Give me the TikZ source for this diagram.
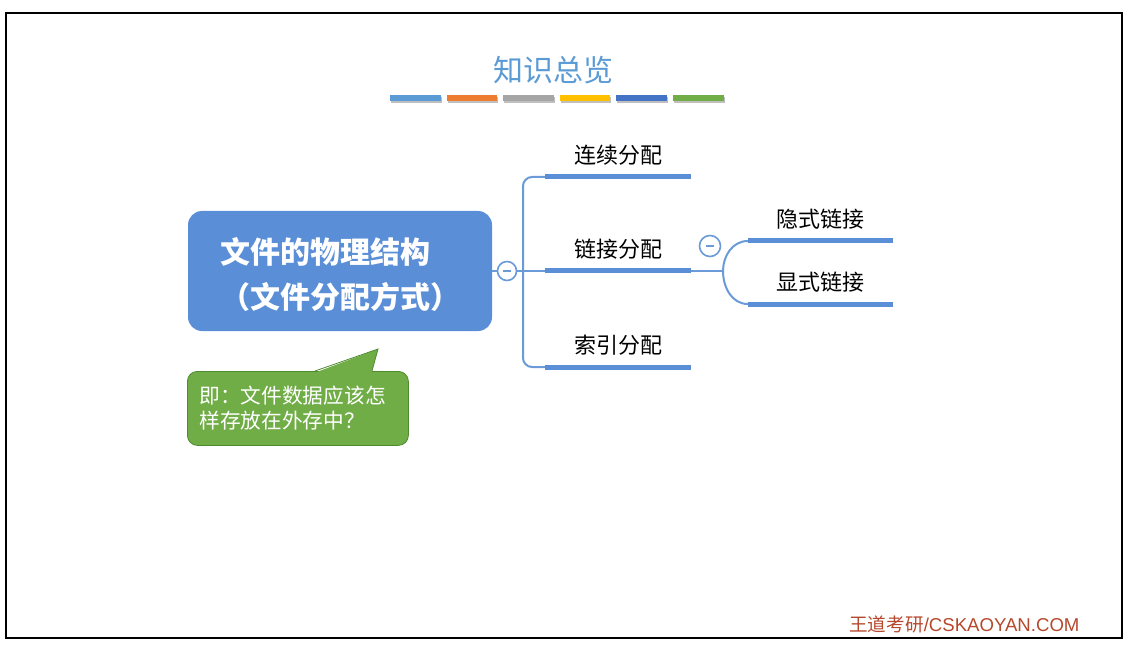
\documentclass[tikz,border=0pt]{standalone}
\usepackage{fontspec}
\setmainfont{Noto Sans CJK SC}
\newfontfamily\arialfont{Liberation Sans}
\usetikzlibrary{positioning}

\begin{document}
\begin{tikzpicture}[x=1pt, y=-1pt]
    % --- Colores ---
    \definecolor{titleblue}{HTML}{5B9BD5}
    \definecolor{mainblue}{HTML}{5A8ED6}
    \definecolor{lineblue}{HTML}{6A9AD8}
    \definecolor{notegreen}{HTML}{70AD47}
    \definecolor{notedark}{HTML}{4E8A2E}
    \definecolor{footred}{HTML}{B5482C}
    \definecolor{barorange}{HTML}{ED7D31}
    \definecolor{bargray}{HTML}{A5A5A5}
    \definecolor{baryellow}{HTML}{FFC000}
    \definecolor{bardarkblue}{HTML}{4472C4}

    % --- Estilos ---
    \tikzset{
        mainbox/.style={rectangle, rounded corners=14pt, fill=mainblue, text=white,
            minimum width=304pt, minimum height=120pt, align=left,
            font=\fontsize{30pt}{45pt}\selectfont\bfseries},
        topic/.style={minimum width=146pt, inner xsep=0pt, inner ysep=11pt,
            text height=19.4pt, text depth=2.6pt, anchor=south,
            font=\fontsize{22pt}{26pt}\selectfont},
        bar/.style={draw=mainblue, line width=5pt},
        link/.style={draw=lineblue, line width=2pt},
        fold/.style={circle, draw=lineblue, fill=white, line width=1.6pt,
            minimum size=19pt, inner sep=0pt,
            path picture={\draw[lineblue, line width=1.4pt]
                ([xshift=-4pt]path picture bounding box.center) --
                ([xshift=4pt]path picture bounding box.center);}},
        notebox/.style={rectangle, rounded corners=10pt, fill=notegreen, draw=notedark,
            line width=0.8pt, text=white, anchor=north west, minimum width=221pt,
            minimum height=74pt, text width=197pt, align=left,
            font=\fontsize{20.7pt}{25pt}\selectfont}
    }

    \useasboundingbox (0,0) rectangle (1133,647);
    \draw[line width=2pt] (6,13) rectangle (1122,638);

    % --- Titulo y barras de colores ---
    \node[text=titleblue, font=\fontsize{30pt}{34pt}\selectfont] (titulo) at (553,70) {知识总览};
    \foreach \c [count=\i from 0] in {titleblue, barorange, bargray, baryellow, bardarkblue, notegreen} {
        \fill[black!25] (391+\i*56.6,97) rectangle ++(50.5,6);
        \fill[\c] (390+\i*56.6,95) rectangle ++(50.5,6);
    }

    % --- Nodo central ---
    \node[mainbox] (wenjian) at (340,271) {\rule{0pt}{34pt}文件的物理结构\\（文件分配方式）};
    \node[fold] (c1) at (507,271) {};

    % --- Ramas de primer nivel ---
    \node[topic] (lianxu)  at (618,177) {连续分配};
    \node[topic] (lianjie) at (618,271) {链接分配};
    \node[topic] (suoyin)  at (618,367) {索引分配};

    % --- Ramas de segundo nivel ---
    \node[topic, minimum width=145pt] (yinshi)  at (820.5,241) {隐式链接};
    \node[topic, minimum width=145pt] (xianshi) at (820.5,304) {显式链接};
    \node[fold, minimum size=21pt] (c2) at (710,246) {};

    \foreach \n in {lianxu, lianjie, suoyin, yinshi, xianshi} {
        \draw[bar] (\n.south west) -- (\n.south east);
    }

    % --- Conectores ---
    \coordinate (tronco) at (523,271);
    \coordinate (bifur) at (723,271);
    \draw[link] (wenjian.east) -- (c1.west);
    \draw[link] (c1.east) -- (lianjie.south west);
    \draw[link, rounded corners=9pt] (lianxu.south west) -| (tronco) |- (suoyin.south west);
    \draw[link] (lianjie.south east) -- (bifur);
    \draw[link] (bifur) to[out=90, in=180] (yinshi.south west);
    \draw[link] (bifur) to[out=-90, in=180] (xianshi.south west);

    % --- Nota (globo) ---
    \node[notebox] (nota) at (187,371) {即：文件数据应该怎\\样存放在外存中？};
    \fill[notegreen] (315.5,372.5) -- (378,349) -- (371.5,372.5) -- cycle;
    \draw[notedark, line width=0.8pt] (315,371) -- (378,349) -- (372,371);

    % --- Pie ---
    \node[text=footred, font=\fontsize{18.6pt}{20pt}\selectfont, anchor=east] (pie) at (1083,624)
        {王道考研{\arialfont/CSKAOYAN.COM}};
\end{tikzpicture}
\end{document}
